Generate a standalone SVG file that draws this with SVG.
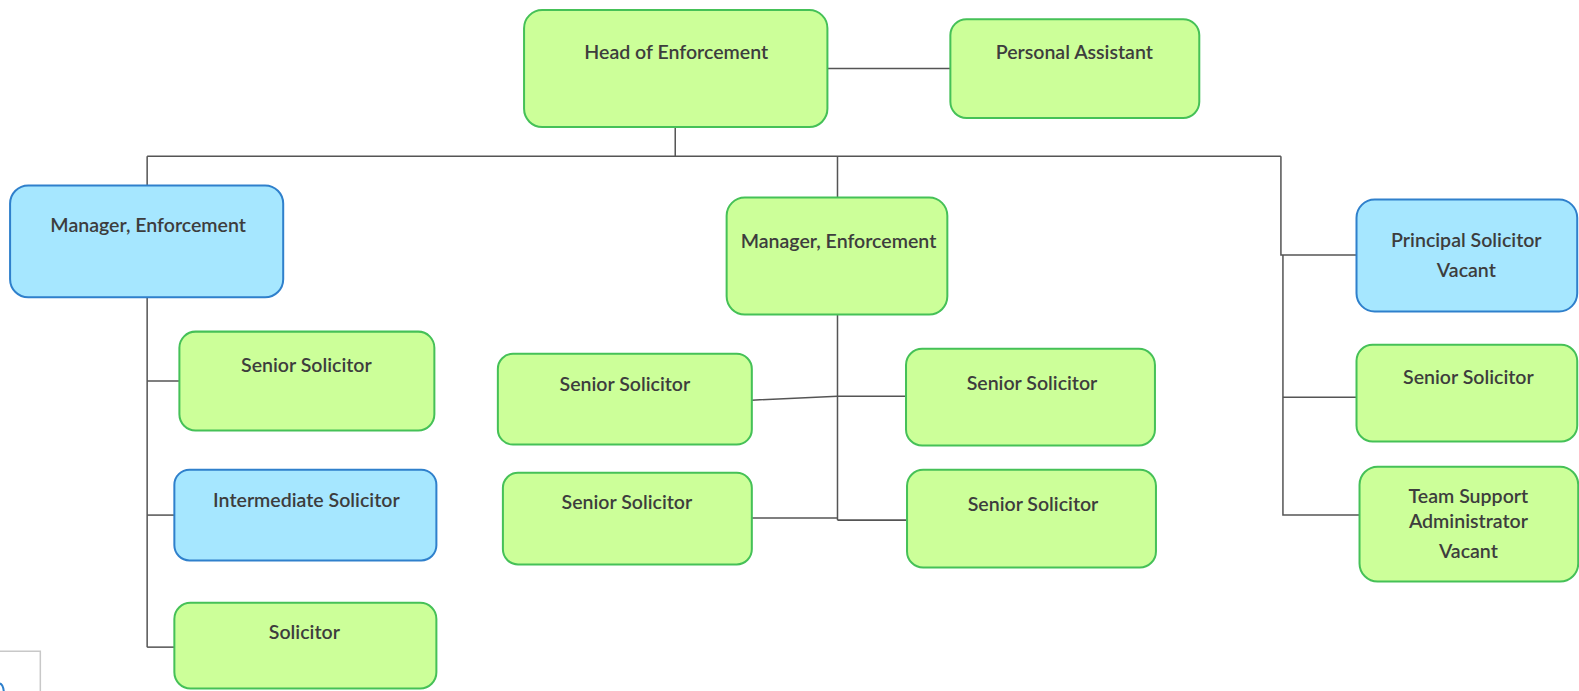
<svg xmlns="http://www.w3.org/2000/svg" width="1579" height="691" viewBox="0 0 1579 691">
<style>
.g{fill:#ccff99;stroke:#45c157;stroke-width:2}
.b{fill:#a6e7ff;stroke:#2f80cc;stroke-width:2}
.t{font-family:Lato,"Open Sans",sans-serif;font-size:19.4px;font-weight:600;fill:#3d3d3d;text-anchor:middle}
.c{fill:none;stroke:#555;stroke-width:1.5}
</style>
<rect width="1579" height="691" fill="#fff"/>
<g transform="matrix(1.0078 0 0 1.008 -1 0)">
<g id="connectors">
<path class="c" d="M822,68H944"/>
<path class="c" d="M671,126V155"/>
<path class="c" d="M147,155H1272"/>
<path class="c" d="M147,155V184"/>
<path class="c" d="M147,295V642"/>
<path class="c" d="M147,378H179"/>
<path class="c" d="M147,511H174"/>
<path class="c" d="M147,642H174"/>
<path class="c" d="M832,155V196"/>
<path class="c" d="M832,312V516"/>
<path class="c" d="M747,397L832,393H900"/>
<path class="c" d="M747,514H832"/>
<path class="c" d="M832,516H901"/>
<path class="c" d="M1272,155V253H1347"/>
<path class="c" d="M1274,253V511H1350"/>
<path class="c" d="M1274,394H1347"/>
<path fill="none" stroke="#c8c8c8" stroke-width="1.5" d="M0,646H41V691"/>
<path fill="none" stroke="#2f80cc" stroke-width="2" d="M0,678Q5,678 5,691"/>
</g>
<g id="head"><rect class="g" x="521" y="10" width="301" height="116" rx="18"/><text class="t" x="672" y="59">Head of Enforcement</text></g>
<g id="pa"><rect class="g" x="944" y="19" width="247" height="98" rx="16"/><text class="t" x="1067" y="59">Personal Assistant</text></g>
<g id="mgr1"><rect class="b" x="11" y="184" width="271" height="111" rx="18"/><text class="t" x="148" y="230">Manager, Enforcement</text></g>
<g id="ss1"><rect class="g" x="179" y="329" width="253" height="98" rx="16"/><text class="t" x="305" y="369">Senior Solicitor</text></g>
<g id="is"><rect class="b" x="174" y="466" width="260" height="90" rx="15"/><text class="t" x="305" y="503">Intermediate Solicitor</text></g>
<g id="sol"><rect class="g" x="174" y="598" width="260" height="85" rx="16"/><text class="t" x="303" y="634">Solicitor</text></g>
<g id="mgr2"><rect class="g" x="722" y="196" width="219" height="116" rx="18"/><text class="t" x="833" y="246">Manager, Enforcement</text></g>
<g id="ss2"><rect class="g" x="495" y="351" width="252" height="90" rx="15"/><text class="t" x="621" y="388">Senior Solicitor</text></g>
<g id="ss3"><rect class="g" x="900" y="346" width="247" height="96" rx="16"/><text class="t" x="1025" y="387">Senior Solicitor</text></g>
<g id="ss4"><rect class="g" x="500" y="469" width="247" height="91" rx="15"/><text class="t" x="623" y="505">Senior Solicitor</text></g>
<g id="ss5"><rect class="g" x="901" y="466" width="247" height="97" rx="16"/><text class="t" x="1026" y="507">Senior Solicitor</text></g>
<g id="ps"><rect class="b" x="1347" y="198" width="219" height="111" rx="18"/><text class="t" x="1456" y="245">Principal Solicitor</text><text class="t" x="1456" y="275">Vacant</text></g>
<g id="ss6"><rect class="g" x="1347" y="342" width="219" height="96" rx="16"/><text class="t" x="1458" y="381">Senior Solicitor</text></g>
<g id="tsa"><rect class="g" x="1350" y="463" width="217" height="114" rx="18"/><text class="t" x="1458" y="499">Team Support</text><text class="t" x="1458" y="524">Administrator</text><text class="t" x="1458" y="554">Vacant</text></g>
</g>
</svg>
